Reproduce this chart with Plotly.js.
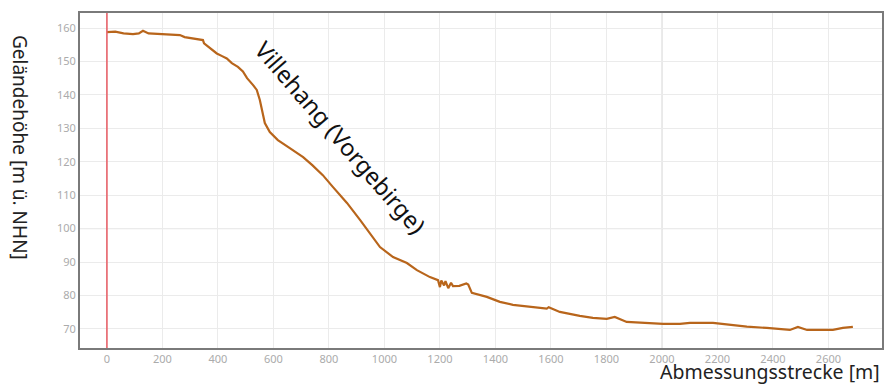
<!DOCTYPE html>
<html>
<head>
<meta charset="utf-8">
<script src="https://cdn.plot.ly/plotly-3.0.1.min.js"></script>
<style>html,body{margin:0;padding:0;background:#fff;}#chart{width:886px;height:385px;}</style>
</head>
<body>
<div id="chart"></div>
<script>
const distance = [0,30,60,94,115,130,150,200,263,280,324,346,350,375,396,415,432,450,472,490,505,526,540,551,569,587,616,659,707,740,778,814,865,912,948,984,1031,1081,1117,1164,1193,1200,1205,1215,1220,1230,1240,1247,1270,1295,1302,1315,1369,1416,1463,1524,1585,1592,1632,1704,1751,1801,1830,1873,1946,2004,2065,2101,2184,2245,2306,2378,2461,2490,2523,2616,2652,2688];
const elevation = [158.8,158.9,158.4,158.2,158.4,159.2,158.4,158.1,157.9,157.3,156.6,156.4,155.4,153.8,152.4,151.6,150.9,149.5,148.4,147.0,145.0,143.0,141.5,138.5,131.6,128.9,126.5,124.1,121.4,119.0,116.0,112.5,107.7,102.6,98.7,94.5,91.5,89.7,87.6,85.5,84.6,82.5,84.5,83.0,84.3,82.2,83.8,82.8,82.9,83.6,83.3,80.8,79.6,78.1,77.2,76.6,76.1,76.5,75.1,73.9,73.3,73.0,73.6,72.1,71.8,71.5,71.5,71.8,71.8,71.2,70.7,70.3,69.7,70.6,69.7,69.7,70.3,70.6];
const xTicks = [0,200,400,600,800,1000,1200,1400,1600,1800,2000,2200,2400,2600];
const yTicks = [70,80,90,100,110,120,130,140,150,160];
const xTitle = "Abmessungsstrecke [m]";
const yTitle = "Geländehöhe [m ü. NHN]";
const labelText = "Villehang (Vorgebirge)";

const font = "Noto Sans, Open Sans, sans-serif";
const trace = {
  x: distance, y: elevation, type: 'scatter', mode: 'lines',
  line: {color: '#b8651b', width: 2.2}, hoverinfo: 'x+y', showlegend: false
};
const layout = {
  width: 886, height: 385,
  margin: {l: 80, r: 4, t: 13, b: 37},
  paper_bgcolor: '#fff', plot_bgcolor: '#fff',
  font: {family: font},
  xaxis: {
    range: [-97, 2793], tickvals: xTicks, ticktext: xTicks.map(String),
    showgrid: true, gridcolor: '#ebebeb', gridwidth: 1, zeroline: false,
    showline: true, mirror: true, linecolor: '#7a7a7a', linewidth: 2,
    ticks: '', tickfont: {size: 11, color: '#ababab', family: font}
  },
  yaxis: {
    range: [64.3, 164.5], tickvals: yTicks, ticktext: yTicks.map(String),
    showgrid: true, gridcolor: '#ebebeb', gridwidth: 1, zeroline: false,
    showline: true, mirror: true, linecolor: '#7a7a7a', linewidth: 2,
    ticks: '', tickfont: {size: 11, color: '#ababab', family: font}
  },
  shapes: [
    {type: 'line', layer: 'below', xref: 'paper', yref: 'y', x0: 0, x1: 1, y0: 100, y1: 100, line: {color: '#cdcdcd', width: 1}},
    {type: 'line', layer: 'below', xref: 'x', yref: 'paper', x0: 2000, x1: 2000, y0: 0, y1: 1, line: {color: '#cdcdcd', width: 1}},
    {type: 'line', layer: 'above', xref: 'x', yref: 'paper', x0: 0, x1: 0, y0: 0, y1: 1, line: {color: '#e8626a', width: 1.6}}
  ],
  annotations: [
    {text: labelText, xref: 'x', yref: 'y', x: 840, y: 127.4, showarrow: false, textangle: 49,
     font: {size: 23.5, color: '#111', family: font}},
    {text: yTitle, xref: 'paper', yref: 'paper', x: -0.0748, y: 0.6, xanchor: 'center', yanchor: 'middle',
     showarrow: false, textangle: 90, font: {size: 19, color: '#222', family: font}},
    {text: xTitle, xref: 'paper', yref: 'paper', x: 1, y: -0.07, xanchor: 'right', yanchor: 'middle',
     showarrow: false, font: {size: 19.5, color: '#222', family: font}}
  ]
};
Plotly.newPlot('chart', [trace], layout, {displayModeBar: false, staticPlot: true});
</script>
</body>
</html>
